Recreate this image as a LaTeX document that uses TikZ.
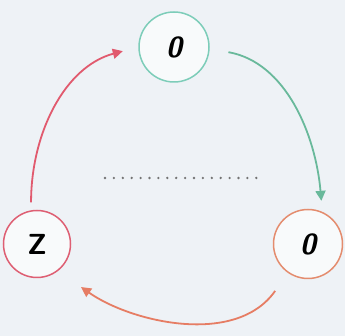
\documentclass[tikz,border=0pt]{standalone}
\usetikzlibrary{arrows.meta}
\definecolor{bgc}{RGB}{238,242,246}
\definecolor{topc}{RGB}{125,205,185}
\definecolor{leftc}{RGB}{222,95,115}
\definecolor{rightc}{RGB}{228,140,110}
\definecolor{greenar}{RGB}{105,185,155}
\definecolor{redar}{RGB}{225,90,110}
\definecolor{orangear}{RGB}{230,125,100}
\tikzset{
  cnode/.style={circle, draw, line width=1.5pt, fill=white!60!bgc, minimum size=#1, inner sep=0pt,
    font=\fontsize{29}{32}\selectfont\sffamily\bfseries},
  arr/.style={line width=1.8pt, -{Triangle[width=10pt,length=10pt]}},
}
\begin{document}
\begin{tikzpicture}[x=1pt,y=1pt]
\fill[bgc] (0,0) rectangle (345,336);
\useasboundingbox (0,0) rectangle (345,336);
\node[cnode=70pt, draw=topc] (top) at (174,289) {\itshape 0};
\node[cnode=67pt, draw=leftc] (left) at (37,92) {Z};
\node[cnode=69pt, draw=rightc] (right) at (308,92) {\itshape 0};
\draw[arr, greenar, shorten <=19pt, shorten >=11pt] (top.-3) to[out=-10, in=95] (right.66);
\draw[arr, redar, shorten <=8pt, shorten >=16pt] (left.100) to[out=90, in=195] (top.west);
\draw[arr, orangear, shorten <=22pt, shorten >=28pt] (right.-125) to[out=-125, in=-35] (left.-52);
\coordinate (d1) at (105,158);
\coordinate (d2) at (265,158);
\draw[gray!90!black, line width=2.6pt, line cap=round, dash pattern=on 0pt off 8.9pt] (d1) -- (d2);
\end{tikzpicture}
\end{document}
